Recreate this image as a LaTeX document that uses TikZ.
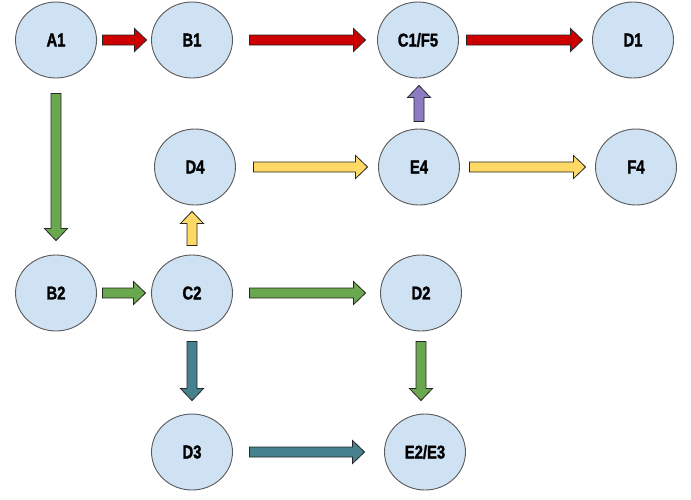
\documentclass[tikz,border=0pt]{standalone}
\usepackage{fontspec}
\usetikzlibrary{calc,shapes.geometric}
\newfontfamily\labfont[FakeStretch=0.8, BoldFeatures={FakeBold=1.5}]{Liberation Sans}
\definecolor{circfill}{HTML}{CFE2F3}
\definecolor{circline}{HTML}{595959}
\definecolor{ared}{HTML}{CC0000}
\definecolor{agreen}{HTML}{6AA84F}
\definecolor{ayellow}{HTML}{FFD966}
\definecolor{apurple}{HTML}{8E7CC3}
\definecolor{ateal}{HTML}{45818E}
\tikzset{
  state/.style={ellipse, draw=circline, line width=0.9pt, fill=circfill,
    minimum width=81pt, minimum height=76pt, inner sep=0pt,
    font=\labfont\bfseries\fontsize{18.5}{18.5}\selectfont},
  blk/.style={draw=black!85, line width=0.8pt, fill=#1, line join=miter,
    to path={let \p1=(\tikztostart), \p2=(\tikztotarget),
      \p3=($(\p2)!12pt!(\p1)$) in
      ($(\p1)!5pt!90:(\p2)$) -- ($(\p3)!5pt!90:(\p2)$) --
      ($(\p3)!11.5pt!90:(\p2)$) -- (\p2) --
      ($(\p3)!11.5pt!-90:(\p2)$) -- ($(\p3)!5pt!-90:(\p2)$) --
      ($(\p1)!5pt!-90:(\p2)$) -- cycle}}
}
\begin{document}
\begin{tikzpicture}[x=1pt,y=-1pt]
\useasboundingbox (0,0) rectangle (691,499);
\fill[white] (0,0) rectangle (691,499);
% nodes
\node[state] (A1)  at (56,40)   {A1};
\node[state] (B1)  at (192,40)  {B1};
\node[state] (C1)  at (418,40)  {C1/F5};
\node[state] (D1)  at (633,40)  {D1};
\node[state] (D4)  at (195,167) {D4};
\node[state] (E4)  at (419,167) {E4};
\node[state] (F4)  at (636,167) {F4};
\node[state] (B2)  at (56,293)  {B2};
\node[state] (C2)  at (192,293) {C2};
\node[state] (D2)  at (421,293) {D2};
\node[state] (D3)  at (192,452) {D3};
\node[state] (E23) at (425,452) {E2/E3};
% red arrows
\draw[blk=ared] ([xshift=5.5pt]A1.east) to ([xshift=-4.5pt]B1.west);
\draw[blk=ared] ([xshift=16.5pt]B1.east) to ([xshift=-11.5pt]C1.west);
\draw[blk=ared] ([xshift=7.5pt]C1.east) to ([xshift=-9.5pt]D1.west);
% green arrows
\draw[blk=agreen] ([yshift=-15pt]A1.south) to ([yshift=14pt]A1.south |- B2.north);
\draw[blk=agreen] ([xshift=5.5pt]B2.east) to ([xshift=-5.5pt]C2.west);
\draw[blk=agreen] ([xshift=16.5pt]C2.east) to ([xshift=-14.5pt]D2.west);
\draw[blk=agreen] ([yshift=-10pt]D2.south) to ([yshift=13pt]D2.south |- E23.north);
% yellow arrows
\draw[blk=ayellow] ([yshift=9pt]C2.north) to ([yshift=-6pt]C2.north |- D4.south);
\draw[blk=ayellow] ([xshift=17.5pt]D4.east) to ([xshift=-10.5pt]E4.west);
\draw[blk=ayellow] ([xshift=9.5pt]E4.east) to ([xshift=-9.5pt]F4.west);
% purple arrow
\draw[blk=apurple] ([yshift=7pt]E4.north) to ([yshift=-7pt]E4.north |- C1.south);
% teal arrows
\draw[blk=ateal] ([yshift=-10pt]C2.south) to ([yshift=13pt]C2.south |- D3.north);
\draw[blk=ateal] ([xshift=16.5pt]D3.east) to ([xshift=-19.5pt]E23.west);
\end{tikzpicture}
\end{document}
